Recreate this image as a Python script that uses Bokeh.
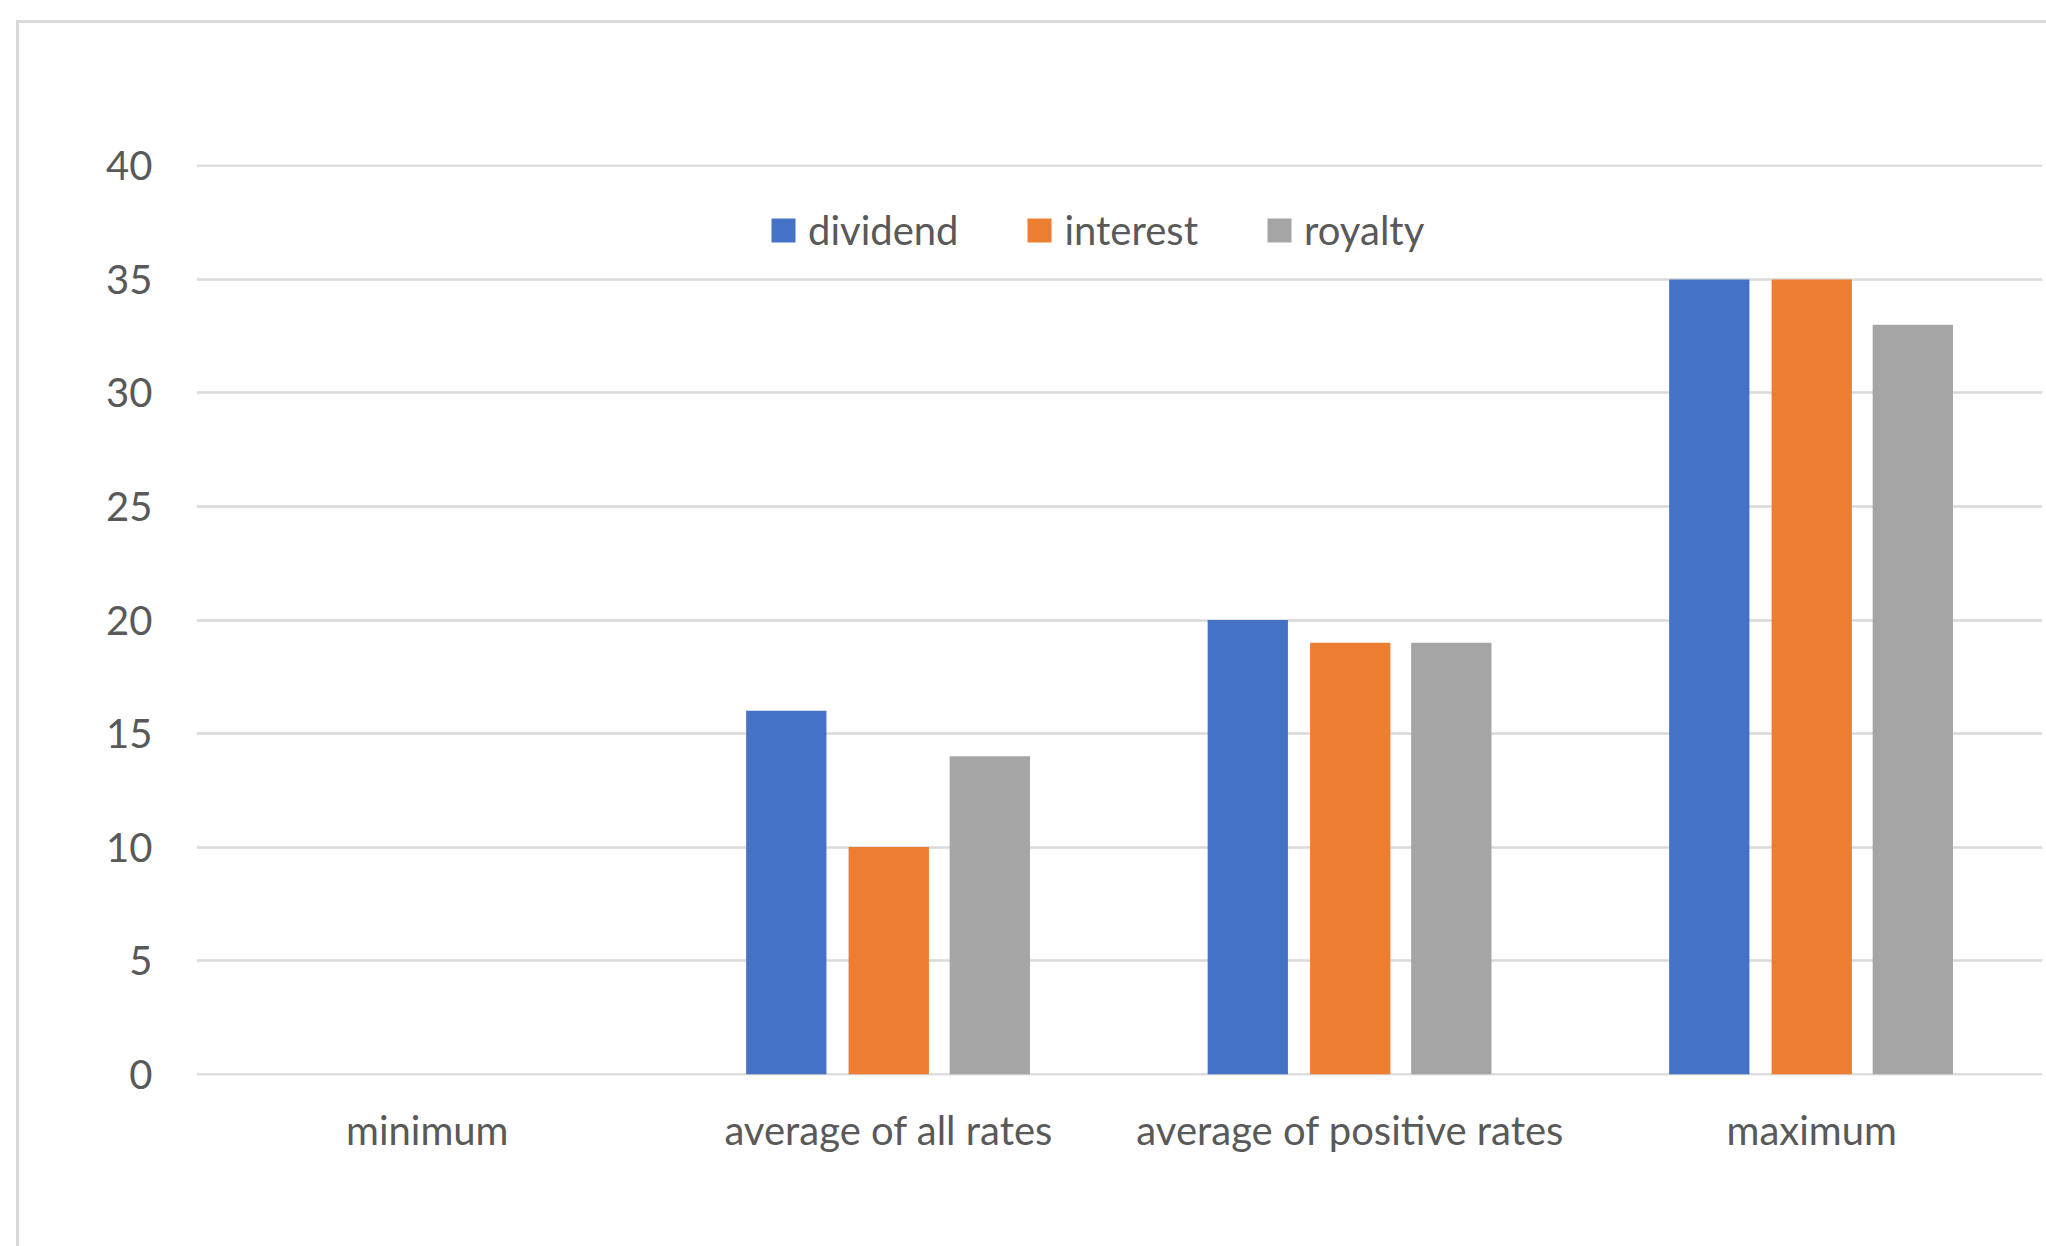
from bokeh.plotting import figure
from bokeh.models import FactorRange, Range1d, ColumnDataSource, Legend, LegendItem, FixedTicker
from bokeh.transform import dodge
from bokeh.layouts import column
from bokeh.embed import file_html
from bokeh.resources import INLINE

categories = ["minimum", "average of all rates", "average of positive rates", "maximum"]
series = ["dividend", "interest", "royalty"]
dividend = [0, 16, 20, 35]
interest = [0, 10, 19, 35]
royalty = [0, 14, 19, 33]
y_ticks = [0, 5, 10, 15, 20, 25, 30, 35, 40]

colors = ["#4472C4", "#ED7D31", "#A5A5A5"]
FONT = "Lato"
TXT = "#595959"
GRID = "#D9D9D9"

src = ColumnDataSource(dict(cat=categories, dividend=dividend, interest=interest, royalty=royalty))

p = figure(
    x_range=FactorRange(*categories, range_padding=0),
    y_range=Range1d(-0.06, 40.06),
    width=2027, height=1223,
    output_backend="svg", toolbar_location=None,
    min_border_left=177, min_border_top=141, min_border_right=4, min_border_bottom=171,
)
p.outline_line_color = None
p.background_fill_color = "white"
p.border_fill_color = "white"

offsets = [-0.222, 0.0, 0.219]
items = []
for name, col, off in zip(series, colors, offsets):
    r = p.vbar(x=dodge("cat", off, range=p.x_range), top=name, width=0.174, source=src,
               fill_color=col, line_color=None)
    items.append(LegendItem(label=name, renderers=[r]))

legend = Legend(items=items, orientation="horizontal", location=(572, 821),
                glyph_width=30, glyph_height=30, label_standoff=10, spacing=66,
                label_height=44,
                padding=0, margin=0, border_line_color=None, background_fill_alpha=0,
                label_text_font=FONT, label_text_font_size="40px", label_text_color=TXT)
p.add_layout(legend, "center")

p.xgrid.grid_line_color = None
p.ygrid.grid_line_color = GRID
p.ygrid.grid_line_width = 2.5
p.yaxis.ticker = FixedTicker(ticks=y_ticks)

for ax in (p.xaxis, p.yaxis):
    ax.axis_line_color = None
    ax.major_tick_line_color = None
    ax.minor_tick_line_color = None
    ax.major_label_text_font = FONT
    ax.major_label_text_font_size = "40px"
    ax.major_label_text_color = TXT
p.yaxis.major_label_standoff = 38
p.xaxis.major_label_standoff = 24

layout = column(p, styles={"border-left": "3px solid #D9D9D9", "border-top": "3px solid #D9D9D9",
                           "margin-left": "16px", "margin-top": "20px"})

open("out.html", "w").write(file_html(layout, INLINE))
